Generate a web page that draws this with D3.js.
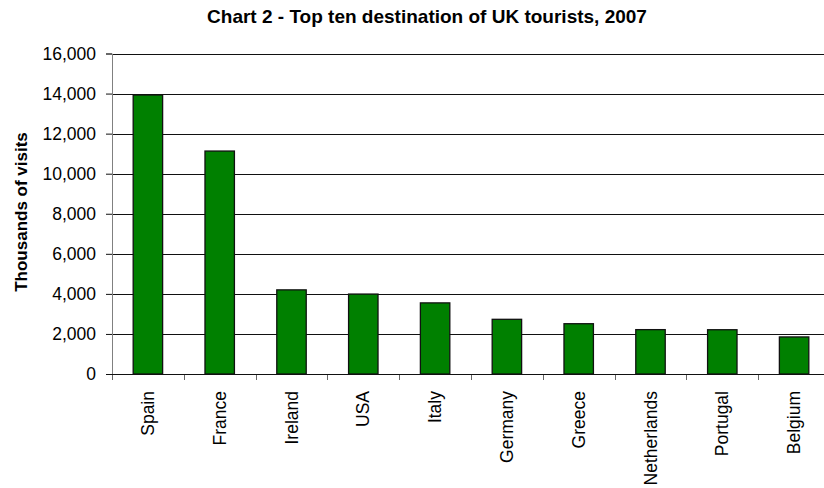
<!DOCTYPE html>
<html>
<head>
<meta charset="utf-8">
<script src="https://cdn.jsdelivr.net/npm/d3@7"></script>
<style>
  html, body { margin: 0; padding: 0; background: #fff; }
  svg { display: block; font-family: "Liberation Sans", Arial, sans-serif; }
</style>
</head>
<body>
<svg id="chart" width="824" height="488"></svg>
<script>
// Top ten destinations of UK tourists, 2007 (thousands of visits)
const countries = ["Spain", "France", "Ireland", "USA", "Italy", "Germany", "Greece", "Netherlands", "Portugal", "Belgium"];
const visits = [13930, 11130, 4200, 3990, 3550, 2730, 2510, 2215, 2210, 1850];
const yTicks = [0, 2000, 4000, 6000, 8000, 10000, 12000, 14000, 16000];

const svg = d3.select("#chart");

const plot = { left: 112, right: 830, top: 53.5, bottom: 374 };

const x = d3.scaleBand()
  .domain(countries)
  .range([plot.left, plot.right])
  .paddingInner(0.59)
  .paddingOuter(0.295);

const y = d3.scaleLinear()
  .domain([0, 16000])
  .range([plot.bottom, plot.top]);

// Title
svg.append("text")
  .attr("x", 427)
  .attr("y", 23)
  .attr("text-anchor", "middle")
  .attr("font-weight", "bold")
  .attr("font-size", 19)
  .attr("fill", "#000")
  .text("Chart 2 - Top ten destination of UK tourists, 2007");

// Horizontal gridlines
svg.append("g")
  .selectAll("line")
  .data(yTicks.filter(d => d > 0))
  .join("line")
  .attr("x1", plot.left)
  .attr("x2", plot.right)
  .attr("y1", d => Math.round(y(d)) + 0.5)
  .attr("y2", d => Math.round(y(d)) + 0.5)
  .attr("stroke", "#111")
  .attr("stroke-width", 1);

// Y axis
const yAxis = svg.append("g")
  .attr("transform", `translate(${plot.left},0)`)
  .call(d3.axisLeft(y)
    .tickValues(yTicks)
    .tickSize(6)
    .tickPadding(10)
    .tickFormat(d3.format(",")));
yAxis.select(".domain").attr("stroke", "#808080");
yAxis.selectAll(".tick line").attr("stroke", "#111");
yAxis.selectAll(".tick text")
  .attr("font-size", 17.5)
  .attr("font-family", "Liberation Sans, Arial, sans-serif")
  .attr("fill", "#000");

// Y axis title
svg.append("text")
  .attr("transform", `translate(27,212) rotate(-90)`)
  .attr("text-anchor", "middle")
  .attr("font-weight", "bold")
  .attr("font-size", 17)
  .attr("fill", "#000")
  .text("Thousands of visits");

// Bars
svg.append("g")
  .selectAll("rect")
  .data(countries.map((c, i) => ({ c, v: visits[i] })))
  .join("rect")
  .attr("x", d => x(d.c))
  .attr("y", d => y(d.v))
  .attr("width", x.bandwidth())
  .attr("height", d => y(0) - y(d.v))
  .attr("fill", "#008000")
  .attr("stroke", "#111")
  .attr("stroke-width", 1.3);

// X axis with ticks at category boundaries
const boundaries = countries.map(c => x(c) - x.step() * x.paddingInner() / 2);
boundaries.push(plot.right);
svg.append("g")
  .selectAll("line")
  .data(boundaries)
  .join("line")
  .attr("x1", d => Math.round(d) + 0.5)
  .attr("x2", d => Math.round(d) + 0.5)
  .attr("y1", plot.bottom)
  .attr("y2", plot.bottom + 6)
  .attr("stroke", "#666");
svg.append("line")
  .attr("x1", plot.left)
  .attr("x2", plot.right)
  .attr("y1", plot.bottom + 0.5)
  .attr("y2", plot.bottom + 0.5)
  .attr("stroke", "#111");

// Category labels, rotated
svg.append("g")
  .selectAll("text")
  .data(countries)
  .join("text")
  .attr("transform", d => `translate(${x(d) + x.bandwidth() / 2},391) rotate(-90)`)
  .attr("text-anchor", "end")
  .attr("dy", "0.35em")
  .attr("font-size", 17.5)
  .attr("fill", "#000")
  .text(d => d);
</script>
</body>
</html>
